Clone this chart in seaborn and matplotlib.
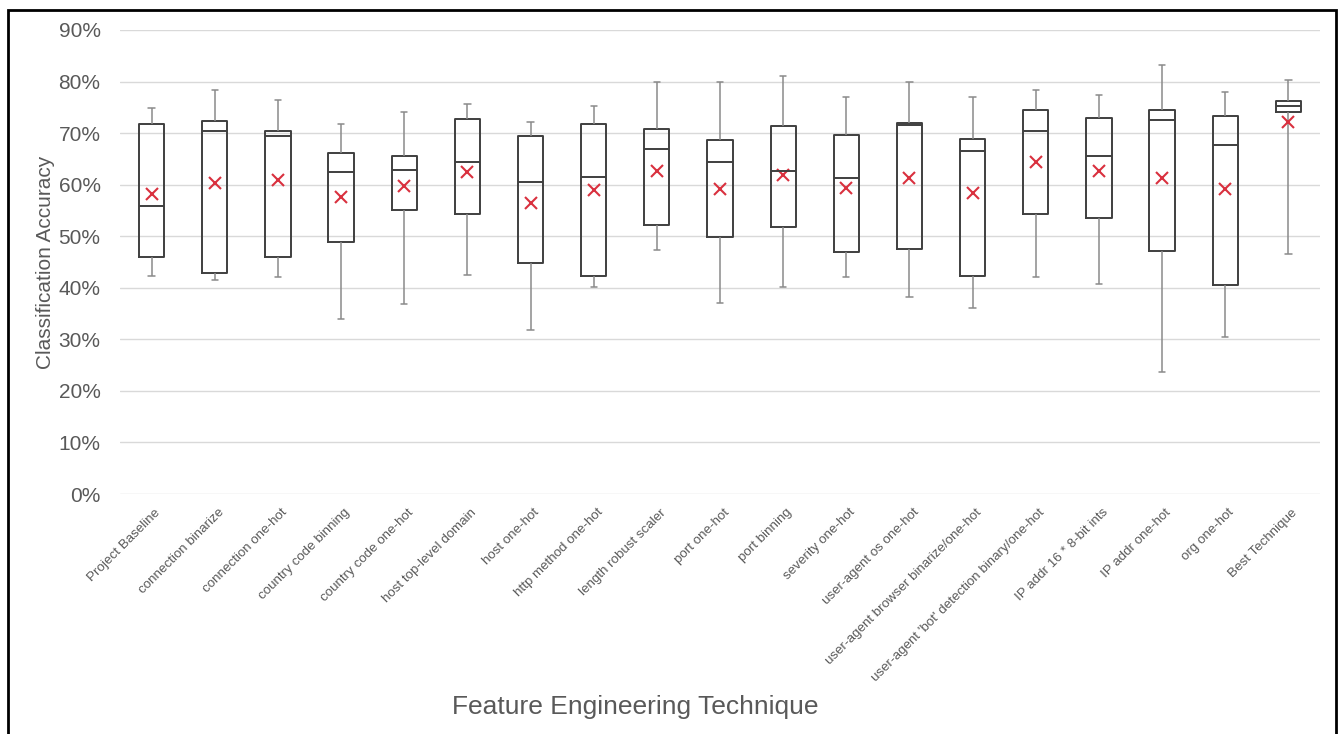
import numpy as np
import pandas as pd
import seaborn as sns
import matplotlib
matplotlib.use("Agg")
import matplotlib.pyplot as plt
from matplotlib.ticker import PercentFormatter
from matplotlib.patches import Rectangle
from matplotlib.transforms import ScaledTranslation

# Valores (em %)
tecnicas = [
    "Project Baseline", "connection binarize", "connection one-hot",
    "country code binning", "country code one-hot", "host top-level domain",
    "host one-hot", "http method one-hot", "length robust scaler",
    "port one-hot", "port binning", "severity one-hot",
    "user-agent os one-hot", "user-agent browser binarize/one-hot",
    "user-agent 'bot' detection binary/one-hot", "IP addr 16 * 8-bit ints",
    "IP addr one-hot", "org one-hot", "Best Technique",
]
minimo = [42.2, 41.6, 42.1, 33.9, 36.8, 42.5, 31.8, 40.1, 47.4, 37.0,
          40.1, 42.0, 38.3, 36.1, 42.1, 40.8, 23.7, 30.4, 46.5]
q1 = [46.0, 42.9, 46.0, 48.9, 55.0, 54.3, 44.9, 42.3, 52.2, 49.8,
      51.7, 46.9, 47.6, 42.3, 54.3, 53.5, 47.2, 40.5, 74.0]
mediana = [55.8, 70.4, 69.4, 62.4, 62.9, 64.3, 60.6, 61.4, 66.9, 64.4,
           62.7, 61.2, 71.5, 66.5, 70.4, 65.6, 72.6, 67.6, 75.2]
q3 = [71.7, 72.3, 70.4, 66.2, 65.6, 72.8, 69.4, 71.7, 70.8, 68.6,
      71.3, 69.7, 72.0, 68.8, 74.4, 73.0, 74.5, 73.4, 76.3]
maximo = [74.9, 78.3, 76.5, 71.8, 74.1, 75.7, 72.2, 75.3, 80.0, 80.0,
          81.1, 77.0, 80.0, 77.1, 78.4, 77.3, 83.2, 77.9, 80.3]
media = [58.2, 60.4, 60.9, 57.6, 59.8, 62.4, 56.4, 59.0, 62.7, 59.2,
         61.8, 59.3, 61.2, 58.4, 64.3, 62.6, 61.2, 59.2, 72.2]

# Formato longo: cinco numeros por tecnica
linhas = []
for i, t in enumerate(tecnicas):
    for v in (minimo[i], q1[i], mediana[i], q3[i], maximo[i]):
        linhas.append({"Tecnica": t, "Acuracia": v})
df = pd.DataFrame(linhas)

sns.set_theme(style="white")
plt.rcParams["font.family"] = ["Liberation Sans", "DejaVu Sans"]

cinza_txt = "#595959"
fig = plt.figure(figsize=(13.4, 7.34), dpi=100)
ax = fig.add_axes([120 / 1340, 1 - 494 / 734, 1200 / 1340, 464 / 734])

sns.boxplot(data=df, x="Tecnica", y="Acuracia", order=tecnicas, whis=(0, 100),
            fill=False, width=0.4, color="#3f3f3f", linewidth=1.4,
            whiskerprops={"color": "#8a8a8a", "linewidth": 1.1},
            capprops={"color": "#8a8a8a", "linewidth": 1.1},
            medianprops={"color": "#3f3f3f", "linewidth": 1.4},
            capwidths=0.1, ax=ax)

sns.pointplot(x=tecnicas, y=media, order=tecnicas, errorbar=None,
              marker="x", linestyle="none", color="#d9303e",
              markersize=8, markeredgewidth=1.5, ax=ax)

ax.set_xlim(-0.5, len(tecnicas) - 0.5)
ax.set_ylim(0, 90)
ax.set_yticks(np.arange(0, 91, 10))
ax.yaxis.set_major_formatter(PercentFormatter(100, decimals=0))
ax.grid(axis="y", color="#d9d9d9", linewidth=1.0)
ax.set_axisbelow(True)
for s in ax.spines.values():
    s.set_visible(False)

ax.tick_params(axis="y", length=0, pad=14, labelsize=15, labelcolor=cinza_txt)
ax.tick_params(axis="x", length=0, pad=9, labelsize=9.6, labelcolor=cinza_txt)
ax.set_xticks(range(len(tecnicas)))
ax.set_xticklabels(tecnicas, rotation=45, ha="right", va="top",
                   rotation_mode="anchor")
desloc = ScaledTranslation(0.03, 0, fig.dpi_scale_trans)
for lbl in ax.get_xticklabels():
    lbl.set_transform(lbl.get_transform() + desloc)

ax.set_xlabel("Feature Engineering Technique", fontsize=19, color=cinza_txt)
ax.xaxis.label.set_va("center")
ax.xaxis.set_label_coords(0.429, -0.459)
ax.set_ylabel("Classification Accuracy", fontsize=15, color=cinza_txt)
ax.yaxis.label.set_va("center")
ax.yaxis.set_label_coords(-0.062, 0.5)

# Moldura externa
fig.add_artist(Rectangle((8 / 1340, -0.01), 1328 / 1340, 1 - 10 / 734 + 0.01,
                         transform=fig.transFigure, fill=False,
                         edgecolor="black", linewidth=2))

fig.savefig("out.png", dpi=100)
